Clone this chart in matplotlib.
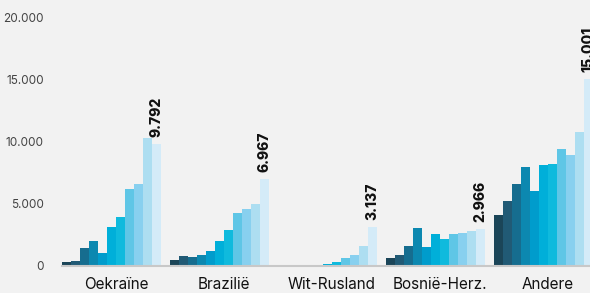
import matplotlib.pyplot as plt
import numpy as np

categories = ["Oekraïne", "Brazilië", "Wit-Rusland", "Bosnië-Herz.", "Andere"]

# 11 series (oldest to newest year), one value per category
values = [
    [320, 400, 1450, 2010, 1040, 3130, 3940, 6180, 6590, 10280, 9792],
    [480, 800, 720, 880, 1200, 2010, 2890, 4260, 4580, 4980, 6967],
    [0, 0, 0, 0, 0, 160, 320, 640, 880, 1610, 3137],
    [640, 880, 1610, 3050, 1530, 2570, 2170, 2570, 2650, 2810, 2966],
    [4100, 5220, 6590, 7950, 6020, 8110, 8190, 9400, 8910, 10760, 15001],
]
last_labels = ["9.792", "6.967", "3.137", "2.966", "15.001"]

colors = ["#1b4558", "#215a75", "#166d8f", "#0c88b0", "#009ccc", "#00afd9",
          "#0fbadd", "#5fc6e6", "#88d0ef", "#addef1", "#d4ebf8"]

bg = "#f2f2f2"
font = "Inter"
fig = plt.figure(figsize=(5.9, 2.93), dpi=100, facecolor=bg)
ax = fig.add_axes([62 / 590, 27 / 293, 528 / 590, 249 / 293], facecolor=bg)

n = len(colors)
slot = n + 1
for i, vals in enumerate(values):
    for j, v in enumerate(vals):
        if v > 0:
            ax.bar(i * slot + j, v, width=1, align="edge", color=colors[j], linewidth=0)
    ax.text(i * slot + n - 0.5, vals[-1] + 550, last_labels[i], rotation=90,
            ha="center", va="bottom", fontsize=10, fontweight="heavy",
            family=font, color="#111111", clip_on=False)

ax.set_xlim(0, 528 / 9)
ax.set_ylim(0, 20000)
ax.set_yticks([0, 5000, 10000, 15000, 20000])
ax.set_yticklabels(["0", "5.000", "10.000", "15.000", "20.000"],
                   fontsize=8.5, color="#444444", family=font)
ax.set_xticks([i * slot + slot / 2 for i in range(len(categories))])
ax.set_xticklabels(categories, fontsize=11, color="#111111", family=font)
ax.tick_params(axis="both", length=0)
ax.tick_params(axis="y", pad=13)
ax.tick_params(axis="x", pad=8)

for s in ["top", "right", "left"]:
    ax.spines[s].set_visible(False)
ax.spines["bottom"].set_color("#c8c8c8")
ax.spines["bottom"].set_linewidth(1.5)

fig.savefig("out.png", dpi=100, facecolor=bg)
